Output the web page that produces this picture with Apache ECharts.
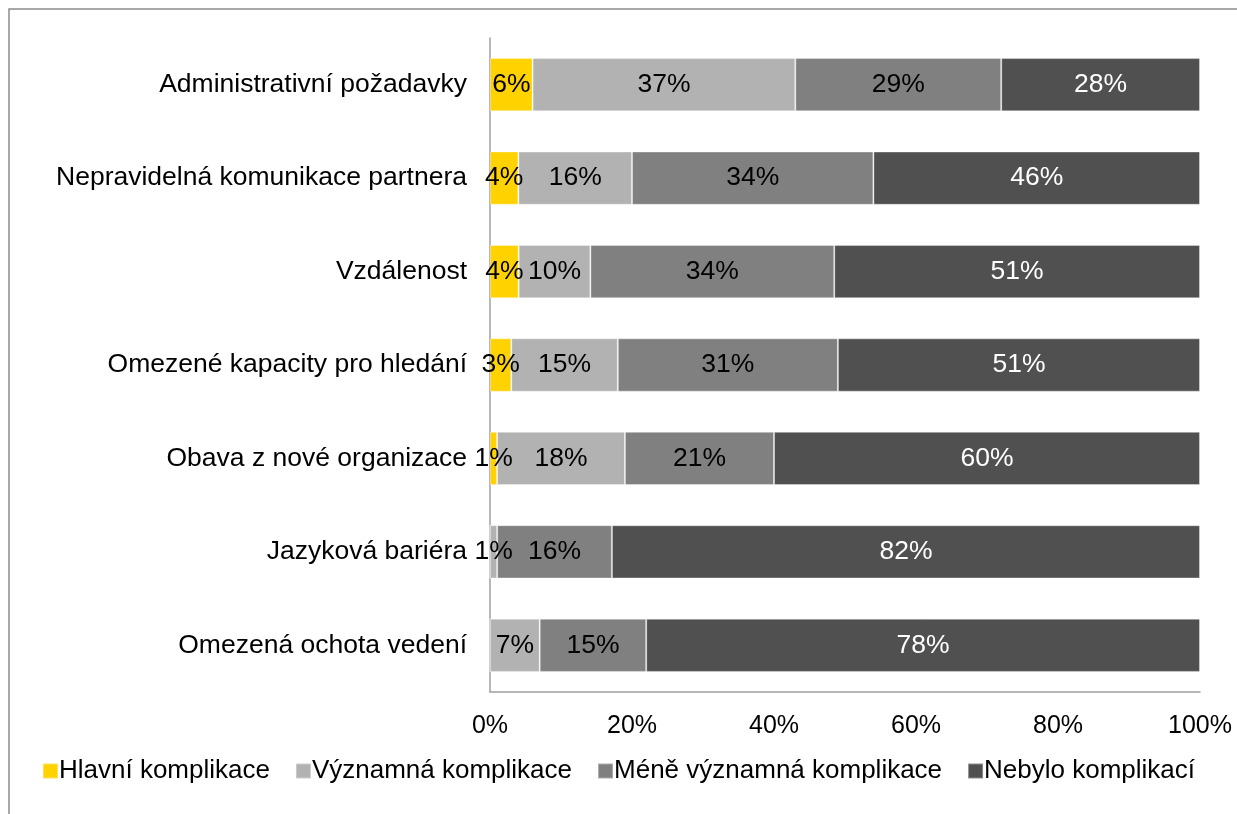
<!DOCTYPE html>
<html>
<head>
<meta charset="utf-8">
<script src="https://cdn.jsdelivr.net/npm/echarts@6/dist/echarts.min.js"></script>
<style>
html,body{margin:0;padding:0;background:#fff}
#chart{width:1237px;height:814px}
</style>
</head>
<body>
<div id="chart"></div>
<script>
const categories=["Administrativní požadavky","Nepravidelná komunikace partnera","Vzdálenost","Omezené kapacity pro hledání","Obava z nové organizace","Jazyková bariéra","Omezená ochota vedení"];
const seriesNames=["Hlavní komplikace","Významná komplikace","Méně významná komplikace","Nebylo komplikací"];
const hlavni=[6,4,4,3,1,0,0];
const vyznamna=[37,16,10,15,18,1,7];
const mene=[29,34,34,31,21,16,15];
const nebylo=[28,46,51,51,60,82,78];
const colors=["#FFD200","#B2B2B2","#808080","#505050"];
const labelColors=["#000","#000","#000","#fff"];

const raw=[hlavni,vyznamna,mene,nebylo];
// 100% stacked: bar length is share of row total, label keeps the read value
const totals=categories.map((_,i)=>raw.reduce((s,a)=>s+a[i],0));

const chart=echarts.init(document.getElementById("chart"));
chart.setOption({
  animation:false,
  textStyle:{fontFamily:"Liberation Sans, Arial, sans-serif"},
  graphic:[{type:"rect",shape:{x:9,y:9,width:1400,height:1000},style:{fill:"none",stroke:"#8c8c8c",lineWidth:1.5},silent:true}],
  grid:{left:490,right:37,top:38,bottom:122,containLabel:false},
  legend:{
    bottom:25,left:"center",itemWidth:15,itemHeight:15,itemGap:25,icon:"rect",
    textStyle:{fontSize:26,color:"#000",padding:[0,0,0,-4]},
    data:seriesNames
  },
  xAxis:{
    type:"value",min:0,max:100,interval:20,
    axisLine:{show:true,lineStyle:{color:"#a0a0a0",width:1.5}},
    axisTick:{show:false},
    splitLine:{show:false},
    axisLabel:{formatter:"{value}%",fontSize:25,color:"#000",margin:22}
  },
  yAxis:{
    type:"category",inverse:true,data:categories,
    axisLine:{show:true,lineStyle:{color:"#a0a0a0",width:1.5}},
    axisTick:{show:false},
    axisLabel:{fontSize:26.5,color:"#000",margin:23}
  },
  series:raw.map((arr,k)=>({
    name:seriesNames[k],type:"bar",stack:"all",barWidth:"57%",
    itemStyle:{color:colors[k],borderColor:"rgba(255,255,255,0.35)",borderWidth:1},
    label:{
      show:true,position:"inside",fontSize:26.5,color:labelColors[k],
      formatter:p=>arr[p.dataIndex]?arr[p.dataIndex]+"%":""
    },
    data:arr.map((v,i)=>v/totals[i]*100)
  }))
});
</script>
</body>
</html>
